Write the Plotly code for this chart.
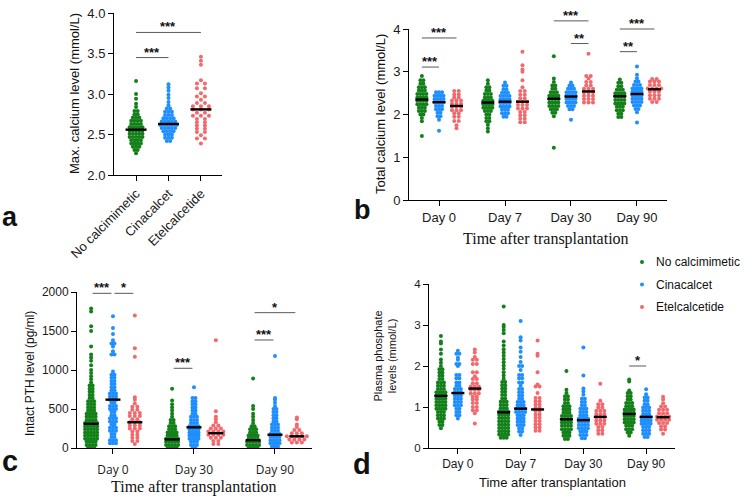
import plotly.graph_objects as go

W, H = 753, 501
SANS = "Liberation Sans, Arial, sans-serif"
SERIF = "Liberation Serif, Times New Roman, serif"
GREEN, BLUE, RED = "#14801a", "#1f8fff", "#f3686c"
COLORS = [GREEN, BLUE, RED]
GROUPS = ["No calcimimetic", "Cinacalcet", "Etelcalcetide"]

# ---------------- data: rows of [value, count] ----------------
# Panel a: max calcium level (mmol/L)
A_NO = [[2.27,1],[2.31,2],[2.35,3],[2.39,4],[2.43,4],[2.47,5],[2.51,5],[2.55,5],[2.59,5],[2.63,4],
        [2.67,4],[2.71,3],[2.75,2],[2.79,2],[2.84,1],[2.88,1],[2.94,1],[3.00,1],[3.16,1]]
A_CINA = [[2.42,2],[2.46,3],[2.50,3],[2.54,4],[2.58,5],[2.62,6],[2.66,5],[2.70,4],[2.74,3],[2.78,3],
          [2.82,2],[2.86,1],[2.90,1],[2.95,1],[2.99,1],[3.04,1],[3.08,1],[3.12,1]]
A_ETEL = [[2.39,1],[2.45,2],[2.49,1],[2.53,2],[2.57,2],[2.61,2],[2.65,2],[2.69,2],[2.73,3],[2.77,2],
          [2.81,3],[2.85,3],[2.89,2],[2.93,1],[2.97,2],[3.01,1],[3.07,2],[3.13,2],[3.17,1],[3.36,1],
          [3.41,1],[3.46,1]]
A_MEDIANS = [2.56, 2.63, 2.81]
A_SIG = [[0, 1, 3.45, "***"], [0, 2, 3.76, "***"]]

# Panel b: total calcium level by day
B_DAYS = ["Day 0", "Day 7", "Day 30", "Day 90"]
B_NO = [
    [[1.50,1],[1.84,1],[1.92,1],[2.00,2],[2.08,3],[2.16,3],[2.24,4],[2.32,4],[2.40,4],[2.48,4],[2.56,3],[2.64,3],[2.72,2],[2.80,2],[2.90,1]],
    [[1.60,1],[1.68,1],[1.76,1],[1.84,2],[1.92,2],[2.00,2],[2.08,3],[2.16,4],[2.24,4],[2.32,4],[2.40,3],[2.48,3],[2.56,2],[2.64,2],[2.72,1],[2.80,1]],
    [[1.22,1],[1.96,1],[2.04,2],[2.12,3],[2.20,4],[2.28,4],[2.36,4],[2.44,4],[2.52,3],[2.60,2],[2.68,2],[2.76,1],[2.84,1],[3.36,1]],
    [[1.94,2],[2.02,2],[2.10,3],[2.18,3],[2.26,4],[2.34,4],[2.42,4],[2.50,4],[2.58,3],[2.66,2],[2.74,2],[2.82,1]],
]
B_CINA = [
    [[1.62,1],[1.88,1],[1.96,2],[2.04,2],[2.12,3],[2.20,3],[2.28,4],[2.36,4],[2.44,4],[2.52,3]],
    [[1.95,2],[2.03,3],[2.11,3],[2.19,4],[2.27,4],[2.35,4],[2.43,4],[2.51,3],[2.59,2],[2.67,2],[2.75,1]],
    [[1.88,1],[2.12,2],[2.20,3],[2.28,4],[2.36,4],[2.44,4],[2.52,4],[2.60,3],[2.68,2],[2.75,1]],
    [[1.81,1],[2.05,1],[2.13,2],[2.21,3],[2.29,4],[2.37,4],[2.45,4],[2.53,4],[2.61,4],[2.69,3],[2.77,2],[2.85,1],[2.93,1],[3.12,1]],
]
B_ETEL = [
    [[1.68,1],[1.75,1],[1.85,2],[1.95,2],[2.03,2],[2.10,3],[2.18,3],[2.25,3],[2.33,3],[2.40,2],[2.47,2],[2.55,2]],
    [[1.82,2],[1.90,2],[1.98,2],[2.06,2],[2.14,3],[2.22,3],[2.30,3],[2.38,2],[2.46,2],[2.55,2],[2.64,1],[2.80,1],[3.00,1],[3.05,1],[3.15,1],[3.47,1]],
    [[2.28,3],[2.36,3],[2.44,3],[2.52,3],[2.60,3],[2.68,2],[2.76,2],[2.84,1],[2.90,2],[3.42,1]],
    [[2.29,2],[2.37,3],[2.45,3],[2.53,3],[2.61,4],[2.69,3],[2.77,3],[2.83,2]],
]
B_MEDIANS = [[2.35, 2.28, 2.37, 2.43], [2.29, 2.30, 2.42, 2.48], [2.20, 2.30, 2.54, 2.59]]
B_SIG = [[0, 0, 1, 3.11, "***"], [0, 0, 2, 3.79, "***"], [2, 0, 2, 4.19, "***"],
         [2, 1, 2, 3.66, "**"], [3, 0, 2, 4.00, "***"], [3, 0, 1, 3.47, "**"]]

# Panel c: intact PTH (pg/ml)
C_DAYS = ["Day 0", "Day 30", "Day 90"]
C_NO = [
    [[0,3],[40,4],[80,4],[120,5],[160,5],[200,5],[240,5],[280,5],[320,5],[360,4],[400,4],[440,4],[480,3],[520,3],
     [560,3],[600,3],[640,2],[680,2],[720,2],[760,2],[800,2],[840,1],[880,1],[920,1],[960,1],[1000,1],[1060,1],
     [1120,1],[1160,1],[1200,1],[1300,1],[1500,1],[1560,1],[1750,1],[1790,1]],
    [[0,4],[40,5],[80,5],[120,5],[160,4],[200,4],[240,3],[280,3],[320,2],[360,2],[400,1],[440,1],[480,1],[520,1],
     [560,1],[610,1],[760,1]],
    [[0,4],[40,5],[80,5],[120,4],[160,4],[200,3],[240,3],[280,2],[320,1],[360,1],[400,1],[440,1],[500,1],[540,1],[890,1]],
]
C_CINA = [
    [[60,3],[100,3],[140,2],[180,2],[220,3],[260,3],[300,2],[340,3],[380,3],[420,2],[460,2],[500,3],[540,3],[580,2],
     [620,3],[660,3],[700,3],[740,2],[780,2],[820,2],[860,2],[900,2],[940,2],[980,1],[1200,2],[1240,1],[1300,1],
     [1340,2],[1380,1],[1460,1],[1540,1],[1690,1]],
    [[0,2],[40,3],[80,3],[120,4],[160,4],[200,4],[240,4],[280,4],[320,3],[360,3],[400,3],[440,2],[480,2],[520,2],
     [560,2],[600,2],[640,2],[780,1]],
    [[20,3],[60,4],[100,4],[140,4],[180,4],[220,3],[260,3],[300,3],[340,2],[380,2],[420,2],[460,2],[500,2],[540,1],
     [580,1],[620,1],[640,1],[1180,1]],
]
C_ETEL = [
    [[50,1],[90,2],[130,2],[170,2],[210,2],[250,3],[290,3],[330,3],[370,2],[410,3],[450,3],[490,2],[530,2],[570,1],
     [620,1],[650,1],[1170,1],[1280,1],[1700,1]],
    [[50,2],[90,2],[130,3],[170,4],[210,4],[250,3],[290,2],[330,1],[370,1],[400,1],[470,1],[1380,1]],
    [[70,3],[110,4],[150,5],[190,3],[230,2],[270,1],[300,1],[370,1],[390,1]],
]
C_MEDIANS = [[310, 110, 100], [620, 265, 170], [330, 190, 150]]
C_SIG = [[0, 0, 1, 1983, "***"], [0, 1, 2, 1983, "*"], [1, 0, 1, 1022, "***"],
         [2, 0, 1, 1385, "***"], [2, 0, 2, 1735, "*"]]

# Panel d: plasma phosphate (mmol/L)
D_DAYS = ["Day 0", "Day 7", "Day 30", "Day 90"]
D_NO = [
    [[0.48,1],[0.56,2],[0.64,2],[0.72,3],[0.80,3],[0.88,3],[0.96,4],[1.04,4],[1.12,4],[1.20,4],[1.28,4],[1.36,4],
     [1.44,3],[1.52,3],[1.60,3],[1.68,2],[1.76,2],[1.84,2],[1.92,2],[2.00,1],[2.08,1],[2.16,1],[2.30,1],[2.40,1],
     [2.55,1],[2.60,1],[2.73,1]],
    [[0.25,3],[0.33,4],[0.41,4],[0.49,4],[0.57,4],[0.65,4],[0.73,4],[0.81,4],[0.89,4],[0.97,3],[1.05,3],[1.13,3],
     [1.21,2],[1.29,2],[1.37,2],[1.45,2],[1.53,2],[1.61,2],[1.69,1],[1.77,1],[1.85,1],[1.93,1],[2.01,1],[2.09,1],
     [2.17,1],[2.25,1],[2.33,1],[2.41,1],[2.50,1],[2.60,1],[2.80,1],[2.88,1],[2.95,1],[3.00,1],[3.45,1]],
    [[0.22,2],[0.30,3],[0.38,3],[0.46,4],[0.54,4],[0.62,4],[0.70,4],[0.78,4],[0.86,3],[0.94,3],[1.02,3],[1.10,2],
     [1.18,2],[1.26,2],[1.34,1],[1.42,1],[1.88,1]],
    [[0.30,1],[0.38,2],[0.46,3],[0.54,3],[0.62,4],[0.70,4],[0.78,4],[0.86,4],[0.94,4],[1.02,3],[1.10,3],[1.18,2],
     [1.26,2],[1.34,2],[1.40,1],[1.62,1],[1.67,1]],
]
D_CINA = [
    [[0.72,1],[0.80,2],[0.88,2],[0.96,2],[1.04,3],[1.12,3],[1.20,3],[1.28,3],[1.36,3],[1.44,3],[1.52,2],[1.60,2],
     [1.70,2],[1.78,2],[2.00,1],[2.05,2],[2.15,1],[2.20,1],[2.30,2],[2.37,1]],
    [[0.32,1],[0.40,2],[0.48,2],[0.56,3],[0.64,3],[0.72,3],[0.80,3],[0.88,4],[0.96,4],[1.04,3],[1.12,3],[1.20,2],
     [1.28,2],[1.36,2],[1.44,2],[1.52,1],[1.60,2],[1.70,2],[1.78,2],[1.90,1],[2.00,2],[2.10,1],[2.22,1],[2.35,1],
     [2.45,1],[2.62,1],[2.70,1],[3.10,1]],
    [[0.24,2],[0.32,3],[0.40,3],[0.48,4],[0.56,4],[0.64,4],[0.72,4],[0.80,3],[0.88,3],[0.96,3],[1.04,2],[1.12,2],
     [1.20,2],[1.30,1],[1.38,1],[1.45,1],[1.77,1],[2.45,1]],
    [[0.27,2],[0.35,3],[0.43,3],[0.51,3],[0.59,4],[0.67,4],[0.75,4],[0.83,3],[0.91,3],[0.99,3],[1.07,2],[1.15,2],
     [1.23,2],[1.31,1],[1.43,1]],
]
D_ETEL = [
    [[0.60,1],[0.85,1],[0.92,2],[1.00,2],[1.10,2],[1.18,2],[1.25,2],[1.33,3],[1.42,3],[1.50,3],[1.58,2],[1.68,2],
     [1.75,1],[1.85,2],[2.05,2],[2.15,2],[2.22,1],[2.33,1],[2.40,1]],
    [[0.42,2],[0.50,2],[0.58,2],[0.66,2],[0.74,2],[0.82,2],[0.90,2],[0.98,2],[1.06,2],[1.14,2],[1.22,2],[1.34,1],
     [1.50,2],[1.55,1],[1.85,1],[2.25,1],[2.30,1],[2.62,1]],
    [[0.35,2],[0.43,2],[0.51,2],[0.59,3],[0.67,3],[0.75,3],[0.83,3],[0.91,3],[0.99,2],[1.07,2],[1.15,1],[1.57,1]],
    [[0.35,1],[0.45,2],[0.53,2],[0.61,3],[0.69,4],[0.77,4],[0.85,3],[0.93,3],[1.01,2],[1.09,1],[1.18,1],[1.25,1]],
]
D_MEDIANS = [[1.27, 0.87, 0.70, 0.83], [1.34, 0.96, 0.68, 0.76], [1.45, 0.94, 0.76, 0.75]]
D_SIG = [[3, 0, 1, 2.0, "*"]]

# ---------------- layout geometry (pixels) ----------------
PANELS = {
    "a": dict(xa="x", ya="y", xd=(114, 222), yd=(13, 175), xr=(-0.68, 2.65), yr=(2.0, 4.0),
              off=[0, 1, 2], gaps=[3.2, 3.4, 8.0], mhw=10.5),
    "b": dict(xa="x2", ya="y2", xd=(409, 667), yd=(29, 200), xr=(-0.455, 3.455), yr=(0, 4),
              off=[-0.26, 0, 0.265], gaps=[3.0, 3.0, 4.5], mhw=6.5),
    "c": dict(xa="x3", ya="y3", xd=(77, 312), yd=(292, 448), xr=(-0.444, 2.457), yr=(0, 2000),
              off=[-0.27, 0, 0.27], gaps=[3.0, 3.0, 5.0], mhw=7.5),
    "d": dict(xa="x4", ya="y4", xd=(429, 675), yd=(284, 448), xr=(-0.46, 3.46), yr=(0, 4),
              off=[-0.27, 0, 0.27], gaps=[3.0, 3.0, 4.0], mhw=6.5),
}


def ppu_x(p):
    return (p["xd"][1] - p["xd"][0]) / (p["xr"][1] - p["xr"][0])


def to_px(p, xv, yv):
    px = p["xd"][0] + (xv - p["xr"][0]) * ppu_x(p)
    py = p["yd"][1] - (yv - p["yr"][0]) * (p["yd"][1] - p["yd"][0]) / (p["yr"][1] - p["yr"][0])
    return px, py


def fx(px):
    return px / W


def fy(py):
    return 1 - py / H


fig = go.Figure()
shapes, annos = [], []


def swarm(p, rows, center, gap):
    xs, ys = [], []
    k = ppu_x(p)
    for v, n in rows:
        for i in range(n):
            xs.append(center + (i - (n - 1) / 2) * gap / k)
            ys.append(v)
    return xs, ys


def add_panel(key, series, medians, sig, trim=0.0):
    p = PANELS[key]
    for g, per_day in enumerate(series):
        xs, ys = [], []
        for d, rows in enumerate(per_day):
            a, b = swarm(p, rows, d + p["off"][g], p["gaps"][g])
            xs += a
            ys += b
        fig.add_trace(go.Scatter(x=xs, y=ys, mode="markers", xaxis=p["xa"], yaxis=p["ya"],
                                 marker=dict(size=4, color=COLORS[g], line=dict(width=0)),
                                 showlegend=False, hoverinfo="skip"))
    k = ppu_x(p)
    for g, meds in enumerate(medians):
        for d, m in enumerate(meds):
            cx = d + p["off"][g]
            fig.add_trace(go.Scatter(x=[cx - p["mhw"] / k, cx + p["mhw"] / k], y=[m, m], mode="lines",
                                     xaxis=p["xa"], yaxis=p["ya"], line=dict(color="black", width=2.4),
                                     showlegend=False, hoverinfo="skip"))
    for d, g0, g1, yv, lab in sig:
        x0, py = to_px(p, d + p["off"][g0], yv)
        x1, _ = to_px(p, d + p["off"][g1], yv)
        x0 += trim
        x1 -= trim
        shapes.append(dict(type="line", xref="paper", yref="paper", x0=fx(x0), x1=fx(x1),
                           y0=fy(py), y1=fy(py), line=dict(color="#5a5a5a", width=1)))
        annos.append(dict(text="<b>" + lab + "</b>", x=fx((x0 + x1) / 2), y=fy(py - 5.5), xref="paper",
                          yref="paper", showarrow=False, xanchor="center", yanchor="middle",
                          font=dict(family=SANS, size=13, color="#111")))


add_panel("a", [[A_NO], [A_CINA], [A_ETEL]], [[m] for m in A_MEDIANS],
          [[0, s[0], s[1], s[2], s[3]] for s in A_SIG])
add_panel("b", [B_NO, B_CINA, B_ETEL], B_MEDIANS, B_SIG)
add_panel("c", [C_NO, C_CINA, C_ETEL], C_MEDIANS, C_SIG, trim=1.5)
add_panel("d", [D_NO, D_CINA, D_ETEL], D_MEDIANS, D_SIG)

# ---------------- axes ----------------
axis_common = dict(showline=True, linecolor="black", linewidth=1, ticks="outside", ticklen=5,
                   tickcolor="black", tickwidth=1, showgrid=False, zeroline=False, fixedrange=True,
                   automargin=False)


def xdom(p):
    return [fx(p["xd"][0]), fx(p["xd"][1])]


def ydom(p):
    return [fy(p["yd"][1]), fy(p["yd"][0])]


pa, pb, pc, pd = PANELS["a"], PANELS["b"], PANELS["c"], PANELS["d"]
tickfont13 = dict(family=SANS, size=13, color="#1a1a1a")
fig.update_layout(
    xaxis=dict(domain=xdom(pa), range=list(pa["xr"]), anchor="y", tickvals=[0, 1, 2], ticktext=GROUPS,
               tickangle=-45, tickfont=tickfont13, **axis_common),
    yaxis=dict(domain=ydom(pa), range=list(pa["yr"]), anchor="x", tickvals=[2.0, 2.5, 3.0, 3.5, 4.0],
               ticktext=["2.0", "2.5", "3.0", "3.5", "4.0"], tickfont=tickfont13, **axis_common),
    xaxis2=dict(domain=xdom(pb), range=list(pb["xr"]), anchor="y2", tickvals=[0, 1, 2, 3], ticktext=B_DAYS,
                tickfont=tickfont13, **axis_common),
    yaxis2=dict(domain=ydom(pb), range=list(pb["yr"]), anchor="x2", tickvals=[0, 1, 2, 3, 4],
                tickfont=tickfont13, **axis_common),
    xaxis3=dict(domain=xdom(pc), range=list(pc["xr"]), anchor="y3", tickvals=[0, 1, 2], ticktext=C_DAYS,
                tickfont=dict(family="Open Sans, sans-serif", size=12, color="#1a1a1a"),
                ticklabelstandoff=6, **axis_common),
    yaxis3=dict(domain=ydom(pc), range=list(pc["yr"]), anchor="x3", tickvals=[0, 500, 1000, 1500, 2000],
                tickfont=dict(family=SANS, size=12, color="#1a1a1a"), **axis_common),
    xaxis4=dict(domain=xdom(pd), range=list(pd["xr"]), anchor="y4", tickvals=[0, 1, 2, 3], ticktext=D_DAYS,
                tickfont=dict(family=SANS, size=12, color="#1a1a1a"), **axis_common),
    yaxis4=dict(domain=ydom(pd), range=list(pd["yr"]), anchor="x4", tickvals=[0, 1, 2, 3, 4],
                tickfont=dict(family=SANS, size=11.5, color="#1a1a1a"), **axis_common),
)


def text(t, px, py, size, family=SANS, angle=0, xanchor="center", bold=False):
    if bold:
        t = "<b>" + t + "</b>"
    annos.append(dict(text=t, x=fx(px), y=fy(py), xref="paper", yref="paper", showarrow=False,
                      xanchor=xanchor, yanchor="middle", textangle=angle,
                      font=dict(family=family, size=size, color="#111")))


# axis titles
text("Max. calcium level (mmol/L)", 75, 94, 13, angle=-90)
text("Total calcium level (mmol/L)", 380, 114, 13, angle=-90)
text("Intact PTH level (pg/ml)", 30, 374, 12, angle=-90)
text("Plasma phosphate<br>levels (mmol/L)", 384.5, 356, 11, angle=-90)
text("Time after transplantation", 546, 239, 16, family=SERIF)
text("Time after transplantation", 193.5, 486.5, 16, family=SERIF)
text("Time after transplantation", 552, 482, 13)

# panel letters
text("a", 0, 217, 27, xanchor="left", bold=True)
text("b", 352, 210, 27, xanchor="left", bold=True)
text("c", 0, 461, 29, xanchor="left", bold=True)
text("d", 351, 464, 29, xanchor="left", bold=True)

# legend
for i, (name, col) in enumerate(zip(GROUPS, COLORS)):
    cy = 262 + i * 22.5
    shapes.append(dict(type="circle", xref="paper", yref="paper", x0=fx(640), x1=fx(644),
                       y0=fy(cy + 2), y1=fy(cy - 2), fillcolor=col, line=dict(width=0)))
    text(name, 654, cy, 12, xanchor="left")

fig.update_layout(width=W, height=H, margin=dict(l=0, r=0, t=0, b=0, pad=0), showlegend=False,
                  paper_bgcolor="white", plot_bgcolor="white", shapes=shapes, annotations=annos,
                  font=dict(family=SANS, color="#111"))
fig.write_html("out.html", config={"displayModeBar": False, "staticPlot": True},
               post_script="document.body.style.margin='0';document.body.style.overflow='hidden';")
